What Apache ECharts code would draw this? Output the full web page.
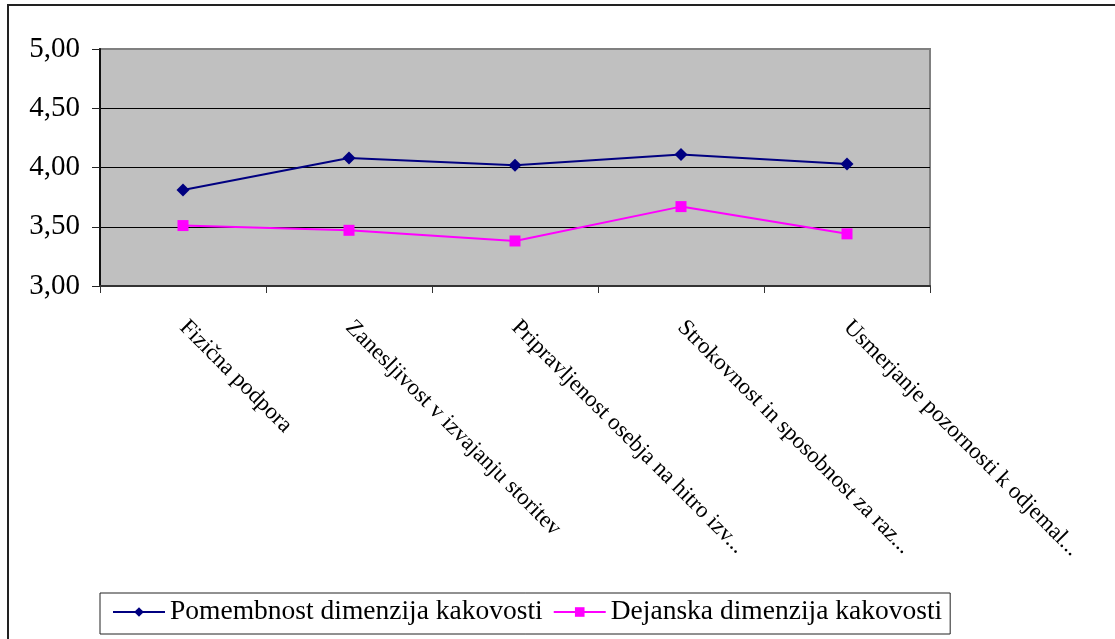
<!DOCTYPE html>
<html>
<head>
<meta charset="utf-8">
<script src="https://cdn.jsdelivr.net/npm/echarts@6/dist/echarts.min.js"></script>
<style>
  html, body { margin: 0; padding: 0; background: #fff; }
  #chart { width: 1115px; height: 639px; }
</style>
</head>
<body>
<div id="chart"></div>
<script>
// Quality dimensions (category axis labels, as printed)
const categories = [
  'Fizična podpora',
  'Zanesljivost v izvajanju storitev',
  'Pripravljenost osebja na hitro izv...',
  'Strokovnost in sposobnost za raz...',
  'Usmerjanje pozornosti k odjemal...'
];

// Importance of each quality dimension
const importanceName = 'Pomembnost dimenzija kakovosti';
const importance = [3.81, 4.08, 4.02, 4.11, 4.03];

// Actual (perceived) quality per dimension
const actualName = 'Dejanska dimenzija kakovosti';
const actual = [3.51, 3.47, 3.38, 3.67, 3.44];

// Value axis range
const yMin = 3.0;
const yMax = 5.0;
const yStep = 0.5;

const serif = '"Liberation Serif", "Times New Roman", serif';

const chart = echarts.init(document.getElementById('chart'), null, { renderer: 'canvas' });

chart.setOption({
  backgroundColor: '#ffffff',
  animation: false,
  graphic: [{
    type: 'rect',
    shape: { x: 8, y: 5, width: 1300, height: 800 },
    style: { fill: 'none', stroke: '#222', lineWidth: 2 },
    z: 0
  }],
  grid: {
    left: 100,
    top: 49,
    right: 185,
    bottom: 353,
    show: true,
    backgroundColor: '#c0c0c0',
    borderColor: '#808080',
    borderWidth: 2
  },
  legend: {
    left: 100,
    top: 593,
    orient: 'horizontal',
    itemWidth: 52,
    itemHeight: 12,
    itemGap: 10,
    padding: [5, 8, 8, 12],
    borderColor: '#222',
    borderWidth: 1,
    backgroundColor: '#fff',
    textStyle: { fontFamily: serif, fontSize: 27.5, color: '#000' },
    data: [importanceName, actualName]
  },
  xAxis: {
    type: 'category',
    data: categories,
    boundaryGap: true,
    axisLine: { show: true, lineStyle: { color: '#333', width: 2 } },
    axisTick: { show: true, length: 7, lineStyle: { color: '#333', width: 1 } },
    axisLabel: {
      rotate: -45,
      interval: 0,
      margin: 38,
      fontFamily: serif,
      fontSize: 23,
      color: '#000'
    },
    splitLine: { show: false }
  },
  yAxis: {
    type: 'value',
    min: yMin,
    max: yMax,
    interval: yStep,
    axisLine: { show: true, lineStyle: { color: '#111', width: 2 } },
    axisTick: { show: true, length: 8, lineStyle: { color: '#222', width: 1 } },
    axisLabel: {
      margin: 20,
      fontFamily: serif,
      fontSize: 29,
      color: '#000',
      formatter: v => v.toFixed(2).replace('.', ',')
    },
    splitLine: {
      show: true,
      showMaxLine: false,
      showMinLine: false,
      lineStyle: { color: '#000', width: 1 }
    }
  },
  series: [
    {
      name: importanceName,
      type: 'line',
      data: importance,
      symbol: 'diamond',
      symbolSize: 13,
      itemStyle: { color: '#000080' },
      lineStyle: { color: '#000080', width: 2 },
      z: 3
    },
    {
      name: actualName,
      type: 'line',
      data: actual,
      symbol: 'rect',
      symbolSize: 11,
      itemStyle: { color: '#ff00ff' },
      lineStyle: { color: '#ff00ff', width: 2 },
      z: 2
    }
  ]
});
</script>
</body>
</html>
